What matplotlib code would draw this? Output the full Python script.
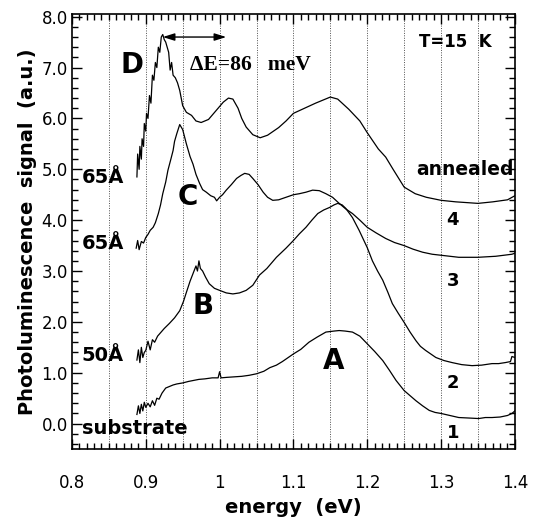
import matplotlib
matplotlib.use("Agg")
import matplotlib.pyplot as plt
from matplotlib.ticker import MultipleLocator, FixedLocator, FuncFormatter

# ---- data ----
e1 = [0.888, 0.890, 0.892, 0.894, 0.896, 0.898, 0.900, 0.903, 0.906, 0.909, 0.912, 0.915, 0.918, 0.922, 0.927,
      0.932, 0.937, 0.942, 0.95, 0.958, 0.965, 0.972, 0.98, 0.99, 0.998, 1.0, 1.002, 1.01, 1.02, 1.03, 1.04,
      1.05, 1.06, 1.068, 1.077, 1.085, 1.093, 1.1, 1.11, 1.121, 1.132, 1.144, 1.155, 1.162, 1.17, 1.18, 1.19,
      1.2, 1.21, 1.221, 1.23, 1.239, 1.25, 1.258, 1.266, 1.275, 1.284, 1.292, 1.3, 1.312, 1.324, 1.338, 1.351,
      1.36, 1.369, 1.38, 1.39, 1.396, 1.4]
s1 = [0.18, 0.35, 0.2, 0.38, 0.25, 0.42, 0.32, 0.4, 0.33, 0.45, 0.36, 0.5, 0.48, 0.6, 0.7,
      0.73, 0.76, 0.78, 0.8, 0.83, 0.85, 0.87, 0.88, 0.9, 0.9, 1.02, 0.9, 0.91, 0.92, 0.93, 0.95,
      0.98, 1.03, 1.1, 1.15, 1.22, 1.3, 1.37, 1.46, 1.6, 1.7, 1.8, 1.82, 1.83, 1.82, 1.8, 1.72,
      1.57, 1.42, 1.24, 1.05, 0.85, 0.65, 0.55, 0.45, 0.35, 0.26, 0.22, 0.2, 0.16, 0.12, 0.11, 0.1,
      0.12, 0.12, 0.13, 0.16, 0.2, 0.25]

e2 = [0.888, 0.890, 0.892, 0.894, 0.896, 0.898, 0.900, 0.903, 0.906, 0.909, 0.912, 0.916, 0.919, 0.925, 0.932,
      0.939, 0.946, 0.951, 0.955, 0.96, 0.964, 0.968, 0.970, 0.972, 0.974, 0.977, 0.981, 0.986, 0.993, 1.0,
      1.009, 1.018, 1.027, 1.036, 1.045, 1.054, 1.064, 1.077, 1.09, 1.1, 1.108, 1.117, 1.125, 1.133, 1.141,
      1.149, 1.155, 1.16, 1.166, 1.171, 1.18, 1.189, 1.2, 1.207, 1.214, 1.221, 1.228, 1.234, 1.242, 1.25,
      1.258, 1.266, 1.272, 1.279, 1.286, 1.293, 1.304, 1.315, 1.328, 1.342, 1.355, 1.369, 1.378, 1.387,
      1.394, 1.396, 1.4]
s2 = [1.25, 1.45, 1.2, 1.5, 1.3, 1.4, 1.44, 1.62, 1.45, 1.65, 1.6, 1.72, 1.77, 1.87, 1.97,
      2.08, 2.22, 2.4, 2.58, 2.8, 2.95, 3.1, 3.0, 3.2, 3.05, 3.0, 2.88, 2.75, 2.66, 2.62,
      2.57, 2.55, 2.57, 2.62, 2.72, 2.92, 3.05, 3.27, 3.45, 3.6, 3.73, 3.86, 4.0, 4.13, 4.2,
      4.25, 4.3, 4.33, 4.3, 4.23, 4.05, 3.8, 3.46, 3.2, 3.0, 2.82, 2.58, 2.36, 2.17, 1.99,
      1.8, 1.63, 1.52, 1.44, 1.37, 1.3, 1.24, 1.2, 1.16, 1.14, 1.15, 1.18, 1.18, 1.2,
      1.22, 1.32, 1.3]

e3 = [0.887, 0.889, 0.891, 0.894, 0.897, 0.900, 0.903, 0.906, 0.910, 0.913, 0.917, 0.920, 0.923, 0.927, 0.930,
      0.934, 0.937, 0.939, 0.942, 0.946, 0.950, 0.955, 0.960, 0.964, 0.968, 0.973, 0.977, 0.982, 0.988, 0.993,
      0.996, 1.0, 1.004, 1.009, 1.016, 1.023, 1.029, 1.034, 1.04, 1.045, 1.052, 1.059, 1.065, 1.072, 1.08,
      1.09, 1.1, 1.108, 1.117, 1.126, 1.135, 1.144, 1.153, 1.162, 1.171, 1.18, 1.19, 1.2, 1.212, 1.225,
      1.237, 1.25, 1.262, 1.275, 1.288, 1.3, 1.312, 1.324, 1.337, 1.35, 1.362, 1.374, 1.385, 1.396, 1.4]
s3 = [3.45, 3.6, 3.42, 3.58, 3.55, 3.66, 3.72, 3.8, 3.86, 3.95, 4.13, 4.3, 4.52, 4.75, 4.98,
      5.2, 5.37, 5.55, 5.7, 5.88, 5.78, 5.5, 5.25, 5.1, 4.9, 4.72, 4.6, 4.55, 4.48, 4.45,
      4.38, 4.45, 4.5, 4.59, 4.7, 4.82, 4.88, 4.92, 4.9, 4.82, 4.7, 4.55, 4.45, 4.39, 4.4,
      4.45, 4.5, 4.52, 4.55, 4.59, 4.58, 4.52, 4.45, 4.33, 4.22, 4.13, 4.0, 3.86, 3.75, 3.64,
      3.56, 3.5, 3.43, 3.37, 3.33, 3.31, 3.29, 3.27, 3.27, 3.27, 3.28, 3.29, 3.31, 3.33, 3.35]

e4 = [0.888, 0.889, 0.891, 0.892, 0.894, 0.895, 0.897, 0.898, 0.900, 0.901, 0.903, 0.905, 0.907, 0.909, 0.911,
      0.913, 0.915, 0.917, 0.919, 0.921, 0.923, 0.925, 0.927, 0.929, 0.931, 0.933, 0.935, 0.937, 0.940, 0.943,
      0.946, 0.950, 0.955, 0.962, 0.968, 0.975, 0.985, 0.995, 1.005, 1.012, 1.018, 1.025, 1.03, 1.036, 1.045,
      1.055, 1.065, 1.08, 1.09, 1.1, 1.115, 1.13, 1.14, 1.15, 1.16, 1.175, 1.19, 1.2, 1.215, 1.225,
      1.235, 1.25, 1.265, 1.28, 1.3, 1.32, 1.35, 1.37, 1.39, 1.4]
s4 = [4.85, 5.3, 5.0, 5.45, 5.2, 5.6, 5.45, 5.9, 5.75, 6.1, 6.0, 6.45, 6.3, 6.85, 6.75,
      7.1, 7.0, 7.4, 7.3, 7.6, 7.65, 7.55, 7.5, 7.4, 7.3, 6.95, 7.1, 6.85, 6.8, 6.7,
      6.55, 6.25, 6.12, 6.06, 5.95, 5.92, 5.98, 6.15, 6.32, 6.4, 6.38, 6.2, 6.0, 5.83, 5.68,
      5.62, 5.67, 5.82, 5.95, 6.1, 6.2, 6.3, 6.36, 6.42, 6.38, 6.18, 5.95, 5.72, 5.4, 5.24,
      5.0, 4.65, 4.52, 4.45, 4.39, 4.36, 4.33, 4.36, 4.4, 4.48]

curves = [(e1, s1), (e2, s2), (e3, s3), (e4, s4)]
grid_x = [0.85, 0.9, 0.95, 1.0, 1.05, 1.1, 1.15, 1.2, 1.25, 1.3, 1.35]
xticks = [0.8, 0.9, 1.0, 1.1, 1.2, 1.3, 1.4]
yticks = [0, 1, 2, 3, 4, 5, 6, 7, 8]
sample_labels = [("65Å", 4.84), ("65Å", 3.54), ("50Å", 1.34), ("substrate", -0.1)]
peak_labels = [("D", 0.882, 7.05), ("C", 0.957, 4.45), ("B", 0.978, 2.32), ("A", 1.155, 1.24)]
curve_numbers = [("1", -0.18), ("2", 0.8), ("3", 2.8), ("4", 4.0)]
dE_left, dE_right = 0.923, 1.009

# ---- figure ----
fig = plt.figure(figsize=(5.33, 5.24), dpi=100)
ax = fig.add_axes([0.135, 0.143, 0.831, 0.830])

for gx in grid_x:
    ax.axvline(gx, color="0.3", lw=0.7, ls=(0, (1, 1.5)), zorder=0)

for e, s in curves:
    ax.plot(e, s, color="black", lw=0.9)

ax.set_xlim(0.8, 1.4)
ax.set_ylim(-0.5, 8.05)

ax.xaxis.set_major_locator(FixedLocator(xticks))
ax.xaxis.set_minor_locator(MultipleLocator(0.01))
ax.yaxis.set_major_locator(FixedLocator(yticks))
ax.yaxis.set_minor_locator(MultipleLocator(0.2))
ax.xaxis.set_major_formatter(FuncFormatter(lambda v, p: "%g" % round(v, 2)))
ax.yaxis.set_major_formatter(FuncFormatter(lambda v, p: "%.1f" % v))

ax.tick_params(which="both", direction="in", top=True, right=True, width=1.0)
ax.tick_params(which="major", length=7)
ax.tick_params(which="minor", length=4)
ax.tick_params(axis="x", which="major", pad=18, labelsize=12)
ax.tick_params(axis="y", which="major", pad=3, labelsize=12)
for sp in ax.spines.values():
    sp.set_linewidth(1.2)

ax.set_xlabel("energy  (eV)", fontsize=14, fontweight="bold", labelpad=4)
ax.set_ylabel("Photoluminescence  signal  (a.u.)", fontsize=14, fontweight="bold", labelpad=3)

for txt, y in sample_labels:
    ax.text(0.8135, y, txt, fontsize=14, fontweight="bold", ha="left", va="center")
for txt, x, y in peak_labels:
    ax.text(x, y, txt, fontsize=20, fontweight="bold", ha="center", va="center")
for txt, y in curve_numbers:
    ax.text(1.316, y, txt, fontsize=13, fontweight="bold", ha="center", va="center")
ax.text(1.266, 5.0, "annealed", fontsize=13.5, fontweight="bold", ha="left", va="center")
ax.text(1.270, 7.5, "T=15  K", fontsize=12, fontweight="bold", ha="left", va="center")

ax.annotate("", xy=(dE_left, 7.6), xytext=(dE_right, 7.6),
            arrowprops=dict(arrowstyle="<|-|>,head_length=0.7,head_width=0.22",
                            color="black", lw=1.0, shrinkA=0, shrinkB=0))
ax.text(0.960, 7.05, "ΔE=86   meV", fontsize=15.5, fontweight="bold",
        family=["Liberation Serif", "DejaVu Serif"], ha="left", va="center")

fig.savefig("out.png", dpi=100)
